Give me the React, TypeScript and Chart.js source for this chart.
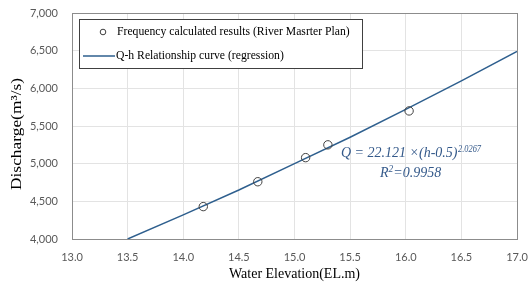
import React, { useEffect, useRef } from "react";
import { Chart, registerables } from "chart.js";

Chart.register(...registerables);

const obsH = [14.18, 14.67, 15.1, 15.3, 16.03];
const obsQ = [4430, 4760, 5080, 5250, 5700];
const curveH = [13.5, 14.0, 14.5, 15.0, 15.5, 16.0, 16.5, 17.0];
const curveQ = [4000, 4320, 4650, 5000, 5350, 5720, 6100, 6490];
const legendLabels = [
  "Frequency calculated results (River Masrter Plan)",
  "Q-h Relationship curve (regression)",
];
const xTitle = "Water Elevation(EL.m)";
const yTitle = "Discharge(m\u00b3/s)";
const equationMain = "Q = 22.121 \u00d7(h-0.5)";
const equationExp = "2.0267";
const r2Text = "R";
const r2Sup = "2";
const r2Rest = "=0.9958";

const SERIF = "'Liberation Serif', 'Times New Roman', serif";
const SANS = "Lato, 'Open Sans', sans-serif";
const LINE_COLOR = "#2e5f8e";
const TEXT_COLOR = "#595959";
const ANNOT_COLOR = "#34598a";

const overlayPlugin = {
  id: "overlay",
  afterDraw(chart: any) {
    const ctx = chart.ctx as CanvasRenderingContext2D;
    const area = chart.chartArea;
    ctx.save();
    // plot border
    ctx.strokeStyle = "#8c8c8c";
    ctx.lineWidth = 1;
    ctx.strokeRect(Math.round(area.left) + 0.5, Math.round(area.top) + 0.5, Math.round(area.right - area.left), Math.round(area.bottom - area.top));

    // y title (stretched along its length like the reference)
    ctx.save();
    ctx.translate(17, 134);
    ctx.rotate(-Math.PI / 2);
    ctx.font = `14px ${SERIF}`;
    ctx.fillStyle = "#000000";
    ctx.textAlign = "center";
    ctx.textBaseline = "middle";
    const tw = ctx.measureText(yTitle).width;
    ctx.scale(112 / tw, 1);
    ctx.fillText(yTitle, 0, 0);
    ctx.restore();

    // legend box
    const lx = area.left + 7;
    const ly = area.top + 6;
    const lw = 283;
    const lh = 49;
    ctx.fillStyle = "#ffffff";
    ctx.fillRect(lx, ly, lw, lh);
    ctx.strokeStyle = "#404040";
    ctx.lineWidth = 1;
    ctx.strokeRect(lx + 0.5, ly + 0.5, lw, lh);
    ctx.font = `11.7px ${SERIF}`;
    ctx.fillStyle = "#000000";
    ctx.textBaseline = "middle";
    ctx.textAlign = "left";
    // item 1: circle
    ctx.beginPath();
    ctx.arc(lx + 24, ly + 13, 2.8, 0, Math.PI * 2);
    ctx.strokeStyle = "#404040";
    ctx.lineWidth = 1;
    ctx.stroke();
    ctx.fillText(legendLabels[0], lx + 38, ly + 13);
    // item 2: line
    ctx.beginPath();
    ctx.moveTo(lx + 4, ly + 37);
    ctx.lineTo(lx + 36, ly + 37);
    ctx.strokeStyle = LINE_COLOR;
    ctx.lineWidth = 1.5;
    ctx.stroke();
    ctx.fillText(legendLabels[1], lx + 37, ly + 37);

    // annotation
    ctx.fillStyle = ANNOT_COLOR;
    ctx.textBaseline = "alphabetic";
    ctx.font = `italic 14px ${SERIF}`;
    const ex = 341;
    const ey = 157;
    ctx.fillText(equationMain, ex, ey);
    const w1 = ctx.measureText(equationMain).width;
    ctx.font = `italic 9.5px ${SERIF}`;
    const we = ctx.measureText(equationExp).width;
    ctx.save();
    ctx.translate(ex + w1 + 0.5, ey - 5.5);
    ctx.scale(23 / we, 1);
    ctx.fillText(equationExp, 0, 0);
    ctx.restore();
    ctx.font = `italic 14px ${SERIF}`;
    const rx = 380;
    const ry = 177;
    ctx.fillText(r2Text, rx, ry);
    const wr = ctx.measureText(r2Text).width;
    ctx.font = `italic 9.5px ${SERIF}`;
    ctx.fillText(r2Sup, rx + wr, ry - 5.5);
    const ws = ctx.measureText(r2Sup).width;
    ctx.font = `italic 14px ${SERIF}`;
    ctx.fillText(r2Rest, rx + wr + ws, ry);
    ctx.restore();
  },
};

export default function App() {
  const ref = useRef<HTMLCanvasElement>(null);
  useEffect(() => {
    document.body.style.margin = "0";
    const chart = new Chart(ref.current!, {
      type: "scatter",
      data: {
        datasets: [
          {
            label: legendLabels[1],
            data: curveH.map((h, i) => ({ x: h, y: curveQ[i] })),
            showLine: true,
            borderColor: LINE_COLOR,
            borderWidth: 1.5,
            pointRadius: 0,
            tension: 0,
            order: 2,
          },
          {
            label: legendLabels[0],
            data: obsH.map((h, i) => ({ x: h, y: obsQ[i] })),
            showLine: false,
            borderColor: "#404040",
            backgroundColor: "rgba(255,255,255,0)",
            borderWidth: 1,
            pointRadius: 4.2,
            pointStyle: "circle",
            order: 1,
          },
        ],
      },
      options: {
        animation: false,
        responsive: false,
        maintainAspectRatio: false,
        layout: { padding: { left: 0, top: 13, right: 12, bottom: 0 } },
        plugins: { legend: { display: false }, tooltip: { enabled: false } },
        scales: {
          x: {
            type: "linear",
            min: 13,
            max: 17,
            border: { display: true, color: "#8c8c8c" },
            grid: { color: "#e3e3e3", drawTicks: false },
            ticks: {
              stepSize: 0.5,
              padding: 12,
              color: TEXT_COLOR,
              font: { family: SANS, size: 11 },
              callback: (v: any) => Number(v).toFixed(1),
            },
            title: {
              display: true,
              text: xTitle,
              color: "#000000",
              font: { family: SERIF, size: 14 },
              padding: { top: 0, bottom: 2 },
            },
            afterFit: (s: any) => {
              s.height = 46;
              s.paddingLeft = 0;
              s.paddingRight = 0;
            },
          },
          y: {
            type: "linear",
            min: 4000,
            max: 7000,
            border: { display: true, color: "#8c8c8c" },
            grid: { color: "#e3e3e3", drawTicks: false },
            ticks: {
              stepSize: 500,
              padding: 14,
              color: TEXT_COLOR,
              font: { family: SANS, size: 11 },
              callback: (v: any) => Number(v).toLocaleString("en-US"),
            },
            title: { display: false },
            afterFit: (s: any) => {
              s.width = 72;
              s.paddingTop = 0;
              s.paddingBottom = 0;
            },
          },
        },
      },
      plugins: [overlayPlugin],
    });
    return () => chart.destroy();
  }, []);
  return (
    <div style={{ position: "fixed", left: 0, top: 0, width: 529, height: 285, background: "#fff" }}>
      <canvas ref={ref} width={529} height={285} style={{ width: 529, height: 285 }} />
    </div>
  );
}
